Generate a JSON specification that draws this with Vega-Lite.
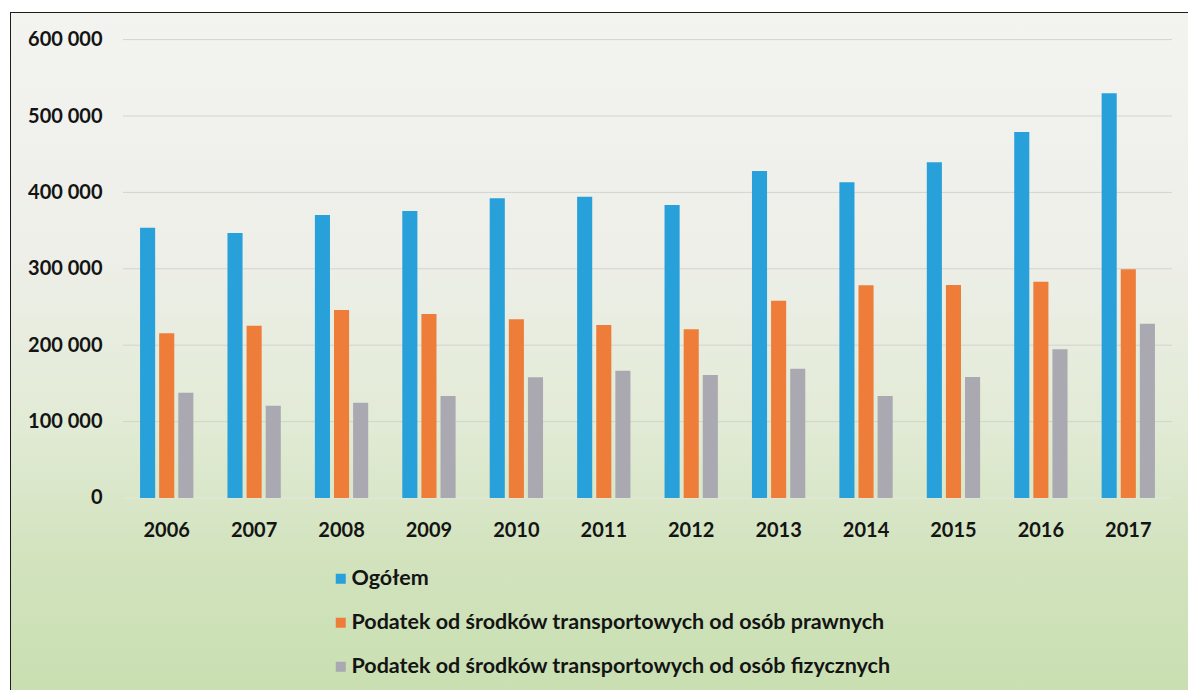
{
  "$schema": "https://vega.github.io/schema/vega-lite/v6.json",
  "autosize": {"type": "none"},
  "width": 1179,
  "height": 679,
  "padding": {"left": 11, "top": 13, "right": -2, "bottom": -2},
  "background": "#ffffff",
  "title": {"text": "w latach 2006-2017", "fontSize": 22, "font": "Lato", "fontWeight": "bold", "color": "#222222", "offset": 7, "baseline": "alphabetic", "frame": "group", "anchor": "middle", "dx": 5},
  "config": {
    "view": {"stroke": "#1e1e1e", "strokeWidth": 2},
    "font": "Lato"
  },
  "datasets": {
    "taxes": [
      {"year": "2006", "series": "Ogółem", "value": 353800},
      {"year": "2006", "series": "Podatek od środków transportowych od osób prawnych", "value": 215600},
      {"year": "2006", "series": "Podatek od środków transportowych od osób fizycznych", "value": 137800},
      {"year": "2007", "series": "Ogółem", "value": 347000},
      {"year": "2007", "series": "Podatek od środków transportowych od osób prawnych", "value": 225500},
      {"year": "2007", "series": "Podatek od środków transportowych od osób fizycznych", "value": 120800},
      {"year": "2008", "series": "Ogółem", "value": 370400},
      {"year": "2008", "series": "Podatek od środków transportowych od osób prawnych", "value": 246000},
      {"year": "2008", "series": "Podatek od środków transportowych od osób fizycznych", "value": 124800},
      {"year": "2009", "series": "Ogółem", "value": 375700},
      {"year": "2009", "series": "Podatek od środków transportowych od osób prawnych", "value": 240800},
      {"year": "2009", "series": "Podatek od środków transportowych od osób fizycznych", "value": 133500},
      {"year": "2010", "series": "Ogółem", "value": 392200},
      {"year": "2010", "series": "Podatek od środków transportowych od osób prawnych", "value": 233900},
      {"year": "2010", "series": "Podatek od środków transportowych od osób fizycznych", "value": 157900},
      {"year": "2011", "series": "Ogółem", "value": 394400},
      {"year": "2011", "series": "Podatek od środków transportowych od osób prawnych", "value": 226400},
      {"year": "2011", "series": "Podatek od środków transportowych od osób fizycznych", "value": 166600},
      {"year": "2012", "series": "Ogółem", "value": 383500},
      {"year": "2012", "series": "Podatek od środków transportowych od osób prawnych", "value": 220800},
      {"year": "2012", "series": "Podatek od środków transportowych od osób fizycznych", "value": 161000},
      {"year": "2013", "series": "Ogółem", "value": 428000},
      {"year": "2013", "series": "Podatek od środków transportowych od osób prawnych", "value": 258300},
      {"year": "2013", "series": "Podatek od środków transportowych od osób fizycznych", "value": 169300},
      {"year": "2014", "series": "Ogółem", "value": 413200},
      {"year": "2014", "series": "Podatek od środków transportowych od osób prawnych", "value": 278400},
      {"year": "2014", "series": "Podatek od środków transportowych od osób fizycznych", "value": 133500},
      {"year": "2015", "series": "Ogółem", "value": 439400},
      {"year": "2015", "series": "Podatek od środków transportowych od osób prawnych", "value": 278800},
      {"year": "2015", "series": "Podatek od środków transportowych od osób fizycznych", "value": 158400},
      {"year": "2016", "series": "Ogółem", "value": 479100},
      {"year": "2016", "series": "Podatek od środków transportowych od osób prawnych", "value": 283200},
      {"year": "2016", "series": "Podatek od środków transportowych od osób fizycznych", "value": 194600},
      {"year": "2017", "series": "Ogółem", "value": 529700},
      {"year": "2017", "series": "Podatek od środków transportowych od osób prawnych", "value": 299300},
      {"year": "2017", "series": "Podatek od środków transportowych od osób fizycznych", "value": 228200}
    ],
    "grid": [
      {"v": 0}, {"v": 100000}, {"v": 200000}, {"v": 300000}, {"v": 400000}, {"v": 500000}, {"v": 600000}
    ]
  },
  "layer": [
    {
      "data": {"values": [{"bg": 1}]},
      "mark": {
        "type": "rect",
        "fill": {
          "gradient": "linear", "x1": 0, "y1": 0, "x2": 0, "y2": 1,
          "stops": [
            {"offset": 0, "color": "#f3f3f0"},
            {"offset": 0.35, "color": "#eeefe9"},
            {"offset": 0.6, "color": "#e2ebd6"},
            {"offset": 0.8, "color": "#d2e3be"},
            {"offset": 1, "color": "#c9dfb1"}
          ]
        }
      }
    },
    {
      "data": {"name": "grid"},
      "mark": {"type": "rule", "strokeWidth": 1},
      "encoding": {
        "y": {
          "field": "v", "type": "quantitative",
          "scale": {"domain": [-253927, 634817], "nice": false, "zero": false},
          "axis": {"title": null, "orient": "left", "offset": -96, "zindex": 2, "values": [0, 100000, 200000, 300000, 400000, 500000, 600000], "labelExpr": "replace(format(datum.value, ',d'), ',', ' ')", "domain": false, "ticks": false, "tickSize": 0, "grid": false, "labelPadding": 5, "labelFont": "Lato", "labelFontWeight": "bold", "labelFontSize": 20, "labelColor": "#141414"}
        },
        "x": {"datum": 0, "type": "quantitative", "scale": {"domain": [0, 1], "range": [112, 1161]}, "axis": null},
        "x2": {"datum": 1},
        "color": {"condition": {"test": "datum.v === 0", "value": "#e4e7df"}, "value": "#d3d3d0"}
      }
    },
    {
      "data": {"name": "taxes"},
      "mark": {"type": "bar"},
      "encoding": {
        "x": {
          "field": "year", "type": "nominal",
          "scale": {"range": [112, 1161], "paddingInner": 0.39, "paddingOuter": 0.195},
          "axis": {"title": null, "orient": "bottom", "offset": -194, "zindex": 2, "domain": false, "ticks": false, "tickSize": 0, "labelPadding": 22, "labelFont": "Lato", "labelFontWeight": "bold", "labelFontSize": 20, "labelColor": "#141414", "labelAngle": 0}
        },
        "xOffset": {
          "field": "series", "type": "nominal",
          "sort": ["Ogółem", "Podatek od środków transportowych od osób prawnych", "Podatek od środków transportowych od osób fizycznych"],
          "scale": {"paddingInner": 0.21, "paddingOuter": 0}
        },
        "y": {
          "field": "value", "type": "quantitative",
          "scale": {"domain": [-253927, 634817], "nice": false, "zero": false}
        },
        "color": {
          "field": "series", "type": "nominal",
          "scale": {
            "domain": ["Ogółem", "Podatek od środków transportowych od osób prawnych", "Podatek od środków transportowych od osób fizycznych"],
            "range": ["#28a0d9", "#ef7d3a", "#aaa9b2"]
          },
          "legend": {
            "title": null, "orient": "none", "legendX": 319, "legendY": 555, "direction": "vertical", "zindex": 2,
            "symbolType": "square", "symbolSize": 100, "symbolStrokeWidth": 0, "labelOffset": 0,
            "labelFont": "Lato", "labelFontWeight": "bold", "labelFontSize": 21.5, "labelColor": "#141414",
            "labelLimit": 700, "rowPadding": 21
          }
        }
      }
    }
  ],
  "resolve": {"scale": {"x": "independent"}}
}
